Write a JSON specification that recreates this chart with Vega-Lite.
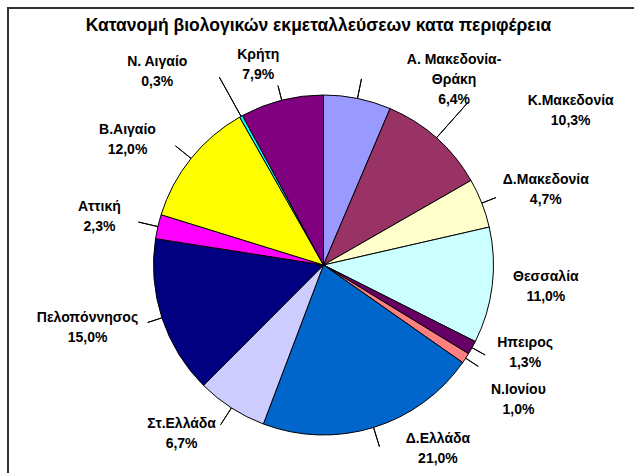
{
  "$schema": "https://vega.github.io/schema/vega-lite/v6.json",
  "width": 631,
  "height": 514,
  "autosize": {"type": "none"},
  "padding": {"left": 8, "top": 8, "right": -5, "bottom": -49},
  "background": "white",
  "view": {"stroke": "#333333", "strokeWidth": 2, "fill": "white"},
  "title": {
    "text": "Κατανομή βιολογικών εκμεταλλεύσεων κατα περιφέρεια",
    "font": "Liberation Sans",
    "fontSize": 17.5,
    "fontWeight": "bold",
    "color": "#000000",
    "anchor": "middle",
    "frame": "group",
    "baseline": "alphabetic",
    "offset": 0,
    "dy": 40,
    "dx": -5
  },
  "config": {
    "text": {"font": "Liberation Sans", "fontSize": 14, "fontWeight": "bold", "color": "#000000", "lineHeight": 20}
  },
  "data": {
    "values": [
      {"region": "Α. Μακεδονία-Θράκη", "share": 6.4},
      {"region": "Κ.Μακεδονία", "share": 10.3},
      {"region": "Δ.Μακεδονία", "share": 4.7},
      {"region": "Θεσσαλία", "share": 11.0},
      {"region": "Ηπειρος", "share": 1.3},
      {"region": "Ν.Ιονίου", "share": 1.0},
      {"region": "Δ.Ελλάδα", "share": 21.0},
      {"region": "Στ.Ελλάδα", "share": 6.7},
      {"region": "Πελοπόννησος", "share": 15.0},
      {"region": "Αττική", "share": 2.3},
      {"region": "Β.Αιγαίο", "share": 12.0},
      {"region": "Ν. Αιγαίο", "share": 0.3},
      {"region": "Κρήτη", "share": 7.9}
    ]
  },
  "transform": [
    {"window": [{"op": "row_number", "as": "idx"}]},
    {"stack": "share", "groupby": [], "sort": [{"field": "idx", "order": "ascending"}], "as": ["s0", "s1"]},
    {"calculate": "(datum.s0 + datum.s1) / 2", "as": "mid"},
    {"calculate": "replace(format(datum.share, '.1f'), '.', ',') + '%'", "as": "pct"},
    {"calculate": "indexof(datum.region, '-') > 0 ? [slice(datum.region, 0, indexof(datum.region, '-') + 1), slice(datum.region, indexof(datum.region, '-') + 1), datum.pct] : [datum.region, datum.pct]", "as": "label"}
  ],
  "layer": [
    {
      "mark": {"type": "arc", "radius": 170, "stroke": "#000000", "strokeWidth": 1},
      "encoding": {
        "theta": {"field": "s0", "type": "quantitative", "scale": {"domain": [0, 99.9]}},
        "theta2": {"field": "s1"},
        "color": {
          "field": "region",
          "type": "nominal",
          "legend": null,
          "scale": {
            "domain": ["Α. Μακεδονία-Θράκη", "Κ.Μακεδονία", "Δ.Μακεδονία", "Θεσσαλία", "Ηπειρος", "Ν.Ιονίου", "Δ.Ελλάδα", "Στ.Ελλάδα", "Πελοπόννησος", "Αττική", "Β.Αιγαίο", "Ν. Αιγαίο", "Κρήτη"],
            "range": ["#9999FF", "#993366", "#FFFFCC", "#CCFFFF", "#660066", "#FF8080", "#0066CC", "#CCCCFF", "#000080", "#FF00FF", "#FFFF00", "#00FFFF", "#800080"]
          }
        }
      }
    },
    {
      "transform": [{"filter": {"field": "region", "oneOf": ["Δ.Μακεδονία", "Ηπειρος", "Ν.Ιονίου", "Πελοπόννησος", "Κρήτη"]}}],
      "mark": {"type": "arc", "radius": 185, "radius2": 170, "stroke": "#000000", "strokeWidth": 1, "fill": "transparent"},
      "encoding": {"theta": {"field": "mid", "type": "quantitative", "scale": {"domain": [0, 99.9]}}, "theta2": {"field": "mid"}}
    },
    {
      "transform": [{"filter": {"field": "region", "oneOf": ["Α. Μακεδονία-Θράκη", "Στ.Ελλάδα", "Αττική", "Β.Αιγαίο", "Δ.Ελλάδα"]}}],
      "mark": {"type": "arc", "radius": 190, "radius2": 170, "stroke": "#000000", "strokeWidth": 1, "fill": "transparent"},
      "encoding": {"theta": {"field": "mid", "type": "quantitative", "scale": {"domain": [0, 99.9]}}, "theta2": {"field": "mid"}}
    },
    {
      "transform": [{"filter": {"field": "region", "equal": "Κ.Μακεδονία"}}],
      "mark": {"type": "arc", "radius": 218, "radius2": 170, "stroke": "#000000", "strokeWidth": 1, "fill": "transparent"},
      "encoding": {"theta": {"field": "mid", "type": "quantitative", "scale": {"domain": [0, 99.9]}}, "theta2": {"field": "mid"}}
    },
    {
      "transform": [{"filter": {"field": "region", "equal": "Ν. Αιγαίο"}}],
      "mark": {"type": "arc", "radius": 215, "radius2": 170, "stroke": "#000000", "strokeWidth": 1, "fill": "transparent"},
      "encoding": {"theta": {"field": "mid", "type": "quantitative", "scale": {"domain": [0, 99.9]}}, "theta2": {"field": "mid"}}
    },
    {"transform": [{"filter": {"field": "region", "equal": "Α. Μακεδονία-Θράκη"}}], "mark": {"type": "text", "radius": 188, "dx": 93, "dy": -21}, "encoding": {"theta": {"field": "mid", "type": "quantitative", "stack": null, "scale": {"domain": [0, 99.9]}}, "text": {"field": "label"}}},
    {"transform": [{"filter": {"field": "region", "equal": "Κ.Μακεδονία"}}], "mark": {"type": "text", "radius": 205, "dx": 111, "dy": -11}, "encoding": {"theta": {"field": "mid", "type": "quantitative", "stack": null, "scale": {"domain": [0, 99.9]}}, "text": {"field": "label"}}},
    {"transform": [{"filter": {"field": "region", "equal": "Δ.Μακεδονία"}}], "mark": {"type": "text", "radius": 185, "dx": 50, "dy": -18}, "encoding": {"theta": {"field": "mid", "type": "quantitative", "stack": null, "scale": {"domain": [0, 99.9]}}, "text": {"field": "label"}}},
    {"transform": [{"filter": {"field": "region", "equal": "Θεσσαλία"}}], "mark": {"type": "text", "radius": 224, "dx": 0, "dy": -15}, "encoding": {"theta": {"field": "mid", "type": "quantitative", "stack": null, "scale": {"domain": [0, 99.9]}}, "text": {"field": "label"}}},
    {"transform": [{"filter": {"field": "region", "equal": "Ηπειρος"}}], "mark": {"type": "text", "radius": 185, "dx": 40, "dy": -12}, "encoding": {"theta": {"field": "mid", "type": "quantitative", "stack": null, "scale": {"domain": [0, 99.9]}}, "text": {"field": "label"}}},
    {"transform": [{"filter": {"field": "region", "equal": "Ν.Ιονίου"}}], "mark": {"type": "text", "radius": 190, "dx": 36, "dy": 21}, "encoding": {"theta": {"field": "mid", "type": "quantitative", "stack": null, "scale": {"domain": [0, 99.9]}}, "text": {"field": "label"}}},
    {"transform": [{"filter": {"field": "region", "equal": "Δ.Ελλάδα"}}], "mark": {"type": "text", "radius": 185, "dx": 60, "dy": -3}, "encoding": {"theta": {"field": "mid", "type": "quantitative", "stack": null, "scale": {"domain": [0, 99.9]}}, "text": {"field": "label"}}},
    {"transform": [{"filter": {"field": "region", "equal": "Στ.Ελλάδα"}}], "mark": {"type": "text", "radius": 190, "dx": -39, "dy": -1}, "encoding": {"theta": {"field": "mid", "type": "quantitative", "stack": null, "scale": {"domain": [0, 99.9]}}, "text": {"field": "label"}}},
    {"transform": [{"filter": {"field": "region", "equal": "Πελοπόννησος"}}], "mark": {"type": "text", "radius": 182, "dx": -63, "dy": -4}, "encoding": {"theta": {"field": "mid", "type": "quantitative", "stack": null, "scale": {"domain": [0, 99.9]}}, "text": {"field": "label"}}},
    {"transform": [{"filter": {"field": "region", "equal": "Αττική"}}], "mark": {"type": "text", "radius": 190, "dx": -39, "dy": -15}, "encoding": {"theta": {"field": "mid", "type": "quantitative", "stack": null, "scale": {"domain": [0, 99.9]}}, "text": {"field": "label"}}},
    {"transform": [{"filter": {"field": "region", "equal": "Β.Αιγαίο"}}], "mark": {"type": "text", "radius": 190, "dx": -48, "dy": -16}, "encoding": {"theta": {"field": "mid", "type": "quantitative", "stack": null, "scale": {"domain": [0, 99.9]}}, "text": {"field": "label"}}},
    {"transform": [{"filter": {"field": "region", "equal": "Ν. Αιγαίο"}}], "mark": {"type": "text", "radius": 215, "dx": -62, "dy": -15}, "encoding": {"theta": {"field": "mid", "type": "quantitative", "stack": null, "scale": {"domain": [0, 99.9]}}, "text": {"field": "label"}}},
    {"transform": [{"filter": {"field": "region", "equal": "Κρήτη"}}], "mark": {"type": "text", "radius": 180, "dx": -21, "dy": -36}, "encoding": {"theta": {"field": "mid", "type": "quantitative", "stack": null, "scale": {"domain": [0, 99.9]}}, "text": {"field": "label"}}}
  ]
}
